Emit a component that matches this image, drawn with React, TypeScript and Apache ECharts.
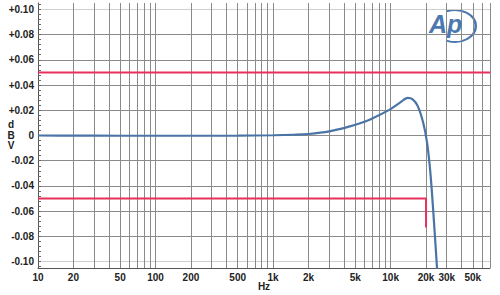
import React, { useEffect, useRef } from "react";
import * as echarts from "echarts";

// Frequency response (dBV) vs frequency (Hz)
const freqHz = [10, 20, 50, 100, 200, 500, 1000, 1500, 2000, 3000, 4500, 5500, 6700, 9900, 12000, 14000, 15400, 17000, 18900, 20400, 21700, 23000, 24800, 25500];
const levelDbv = [0, -0.0001, -0.0002, -0.0002, -0.0002, -0.0001, 0.0002, 0.0006, 0.0012, 0.0033, 0.0072, 0.0097, 0.0127, 0.0207, 0.026, 0.0298, 0.0286, 0.0233, 0.0103, -0.0056, -0.028, -0.059, -0.105, -0.12];

// Limit lines
const upperLimitFreq = [10, 70000];
const upperLimitDbv = [0.05, 0.05];
const lowerLimitFreq = [10, 20000, 20000];
const lowerLimitDbv = [-0.05, -0.05, -0.073];

// Axis ticks
const xLabelFreqs = [10, 20, 50, 100, 200, 500, 1000, 2000, 5000, 10000, 20000, 30000, 50000];
const xGridFreqs = [
  10, 20, 30, 40, 50, 60, 70, 80, 90,
  100, 200, 300, 400, 500, 600, 700, 800, 900,
  1000, 2000, 3000, 4000, 5000, 6000, 7000, 8000, 9000,
  10000, 20000, 30000, 40000, 50000, 60000, 70000,
];
const yLabelValues = [-0.1, -0.08, -0.06, -0.04, -0.02, 0, 0.02, 0.04, 0.06, 0.08, 0.1];
const yMinorStep = 0.004;

const X_MIN = 10;
const X_MAX = 70000;
const Y_MIN = -0.105;
const Y_MAX = 0.105;

const FONT = '"Liberation Sans", Arial, sans-serif';
const GRID_COLOR = "#8a8a8a";
const GRID_LIGHT = "#cfcfcf";
const AXIS_COLOR = "#555";
const BLUE = "#4a74a6";
const RED = "#e8305c";

function fmtFreq(f: number): string {
  return f >= 1000 ? `${Math.round(f / 1000)}k` : `${Math.round(f)}`;
}

export default function App() {
  const ref = useRef<HTMLDivElement>(null);

  useEffect(() => {
    if (!ref.current) return;
    const chart = echarts.init(ref.current, undefined, { renderer: "svg" });

    const yMinor: number[] = [];
    for (let v = -0.104; v <= 0.1041; v += yMinorStep) yMinor.push(Math.round(v * 1000) / 1000);

    const yGridColors = yLabelValues.map((v) => (Math.abs(Math.abs(v) - 0.1) < 1e-9 ? GRID_LIGHT : GRID_COLOR));

    const option: any = {
      animation: false,
      backgroundColor: "#fff",
      grid: { left: 38, right: 10, top: 3, bottom: 27, containLabel: false, outerBoundsMode: "none" },
      xAxis: [
        {
          type: "log",
          logBase: 10,
          min: X_MIN,
          max: X_MAX,
          show: false,
          splitLine: { show: false },
        },
        {
          type: "value",
          position: "bottom",
          min: Math.log10(X_MIN),
          max: Math.log10(X_MAX),
          axisLine: { show: true, onZero: false, lineStyle: { color: AXIS_COLOR, width: 1 } },
          axisTick: { show: false, customValues: xGridFreqs.map((f) => Math.log10(f)) },
          axisLabel: {
            customValues: xLabelFreqs.map((f) => Math.log10(f)),
            formatter: (v: number) => fmtFreq(Math.pow(10, v)),
            fontFamily: FONT,
            fontWeight: "bold",
            fontSize: 10,
            color: "#222",
            margin: 4,
          },
          splitLine: { show: true, lineStyle: { color: GRID_COLOR, width: 1 } },
        },
      ],
      yAxis: [
        {
          type: "value",
          min: Y_MIN,
          max: Y_MAX,
          axisLine: { show: true, onZero: false, lineStyle: { color: AXIS_COLOR, width: 1 } },
          axisTick: { show: false, customValues: yLabelValues },
          axisLabel: {
            customValues: yLabelValues,
            formatter: (v: number) => (Math.abs(v) < 1e-9 ? "0" : (v > 0 ? "+" : "") + v.toFixed(2)),
            fontFamily: FONT,
            fontWeight: "bold",
            fontSize: 10,
            color: "#222",
            margin: 4,
          },
          splitLine: { show: true, lineStyle: { color: yGridColors, width: 1 } },
        },
        {
          type: "value",
          min: Y_MIN,
          max: Y_MAX,
          position: "left",
          axisLine: { show: false },
          axisLabel: { show: false },
          splitLine: { show: false },
          axisTick: {
            show: true,
            inside: true,
            length: 3,
            customValues: yMinor,
            lineStyle: { color: "#666", width: 1 },
          },
        },
      ],
      series: [
        {
          type: "line",
          name: "Upper limit",
          xAxisIndex: 0,
          yAxisIndex: 0,
          data: upperLimitFreq.map((f, i) => [f, upperLimitDbv[i]]),
          showSymbol: false,
          lineStyle: { color: RED, width: 2 },
          z: 3,
        },
        {
          type: "line",
          name: "Lower limit",
          xAxisIndex: 0,
          yAxisIndex: 0,
          data: lowerLimitFreq.map((f, i) => [f, lowerLimitDbv[i]]),
          showSymbol: false,
          lineStyle: { color: RED, width: 2 },
          z: 3,
        },
        {
          type: "line",
          name: "Response",
          xAxisIndex: 0,
          yAxisIndex: 0,
          data: freqHz.map((f, i) => [f, levelDbv[i]]),
          showSymbol: false,
          smooth: 0.35,
          clip: true,
          lineStyle: { color: BLUE, width: 2.2 },
          z: 4,
        },
      ],
      graphic: [
        {
          type: "text",
          x: 11,
          y: 135,
          style: {
            text: "d\nB\nV",
            fontFamily: FONT,
            fontWeight: "bold",
            fontSize: 10,
            fill: "#222",
            align: "center",
            verticalAlign: "middle",
            lineHeight: 10.5,
          },
        },
        {
          type: "text",
          x: 264,
          y: 286,
          style: {
            text: "Hz",
            fontFamily: FONT,
            fontWeight: "bold",
            fontSize: 10,
            fill: "#222",
            align: "center",
            verticalAlign: "middle",
          },
        },
        {
          type: "text",
          x: 429,
          y: 24,
          style: {
            text: "Ap",
            fontFamily: FONT,
            fontStyle: "italic",
            fontWeight: "bold",
            fontSize: 25,
            fill: "#4b78b0",
            align: "left",
            verticalAlign: "middle",
          },
          z: 10,
        },
        {
          type: "group",
          x: 455,
          y: 26,
          scaleX: 1.3,
          scaleY: 1,
          z: 10,
          children: [
            {
              type: "arc",
              shape: { cx: 0, cy: 0, r: 16, startAngle: -1.95, endAngle: 1.95, clockwise: true },
              style: { stroke: "#4b78b0", lineWidth: 2, fill: "none", lineCap: "round" },
            },
          ],
        },
      ],
    };

    chart.setOption(option);
    return () => chart.dispose();
  }, []);

  return (
    <div style={{ position: "fixed", left: 0, top: 0, width: 500, height: 295, background: "#fff" }}>
      <div ref={ref} style={{ width: 500, height: 295 }} />
    </div>
  );
}
